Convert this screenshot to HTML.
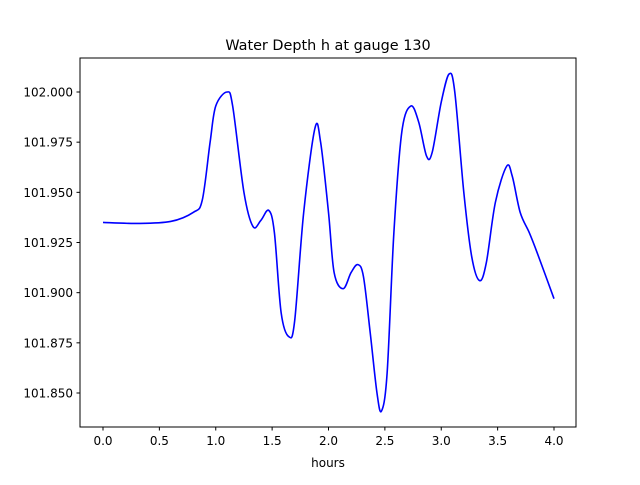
<!DOCTYPE html>
<html><head><meta charset="utf-8"><style>
body{margin:0;background:#fff}
svg text{font-family:"DejaVu Sans","Liberation Sans",sans-serif;fill:#000}
</style></head><body>
<svg id="chart" width="640" height="480" xmlns="http://www.w3.org/2000/svg">
<rect width="640" height="480" fill="#fff"/>
<text x="328" y="50" font-size="14.4" text-anchor="middle">Water Depth h at gauge 130</text>
<g id="xt"></g><g id="yt"></g>
<path id="line" fill="none" stroke="#0000ff" stroke-width="1.6"/>
<rect x="80" y="58" width="496" height="369" fill="none" stroke="#000" stroke-width="1"/>
<text x="328" y="467" font-size="12" text-anchor="middle">hours</text>
</svg>
<script>
const times=[0,0.3,0.6,0.8,0.88,0.95,1.0,1.1,1.15,1.25,1.33,1.4,1.47,1.52,1.58,1.65,1.7,1.78,1.88,1.93,2.0,2.05,2.13,2.2,2.26,2.31,2.37,2.43,2.47,2.52,2.58,2.65,2.73,2.8,2.87,2.92,3.0,3.07,3.12,3.2,3.27,3.34,3.4,3.48,3.58,3.63,3.7,3.78,3.85,4.0];
const depths=[101.935,101.9345,101.9355,101.940,101.946,101.975,101.993,102.000,101.993,101.950,101.933,101.936,101.941,101.930,101.890,101.878,101.886,101.940,101.982,101.975,101.940,101.910,101.902,101.910,101.914,101.908,101.880,101.850,101.841,101.860,101.930,101.980,101.993,101.985,101.968,101.970,101.995,102.009,102.000,101.950,101.918,101.906,101.915,101.945,101.963,101.958,101.940,101.930,101.920,101.897];
const xTicks=[0,0.5,1,1.5,2,2.5,3,3.5,4];
const xTickLabels=["0.0","0.5","1.0","1.5","2.0","2.5","3.0","3.5","4.0"];
const yTicks=[101.85,101.875,101.9,101.925,101.95,101.975,102.0];
const yTickLabels=["101.850","101.875","101.900","101.925","101.950","101.975","102.000"];
const X=t=>103+t*112.75;
const Y=v=>92-(v-102)*2006.7;
const ns="http://www.w3.org/2000/svg";
const xt=document.getElementById('xt'),yt=document.getElementById('yt');
xTicks.forEach((t,i)=>{
 const l=document.createElementNS(ns,'line');
 
 
 l.setAttribute('x1',X(t));l.setAttribute('x2',X(t));l.setAttribute('y1',427);l.setAttribute('y2',430.5);l.setAttribute('stroke','#000');
 xt.appendChild(l);
 const tx=document.createElementNS(ns,'text');
 
 
 tx.setAttribute('x',X(t));tx.setAttribute('y',445);tx.setAttribute('font-size','12');tx.setAttribute('text-anchor','middle');
 tx.textContent=xTickLabels[i];xt.appendChild(tx);
});
yTicks.forEach((v,i)=>{
 const l=document.createElementNS(ns,'line');
 
 
 l.setAttribute('x1',76.5);l.setAttribute('x2',80);l.setAttribute('y1',Y(v));l.setAttribute('y2',Y(v));l.setAttribute('stroke','#000');
 yt.appendChild(l);
 const tx=document.createElementNS(ns,'text');
 
 
 tx.setAttribute('x',73);tx.setAttribute('y',Y(v)+4.5);tx.setAttribute('font-size','12');tx.setAttribute('text-anchor','end');
 tx.textContent=yTickLabels[i];yt.appendChild(tx);
});
const pts=times.map((t,i)=>[X(t),Y(depths[i])]);
let d='M'+pts[0][0]+','+pts[0][1];
for(let i=0;i<pts.length-1;i++){
 const p0=pts[Math.max(0,i-1)],p1=pts[i],p2=pts[i+1],p3=pts[Math.min(pts.length-1,i+2)];
 const c1=[p1[0]+(p2[0]-p0[0])/6,p1[1]+(p2[1]-p0[1])/6];
 const c2=[p2[0]-(p3[0]-p1[0])/6,p2[1]-(p3[1]-p1[1])/6];
 d+=' C'+c1[0]+','+c1[1]+' '+c2[0]+','+c2[1]+' '+p2[0]+','+p2[1];
}
document.getElementById('line').setAttribute('d',d);
</script>
</body></html>
